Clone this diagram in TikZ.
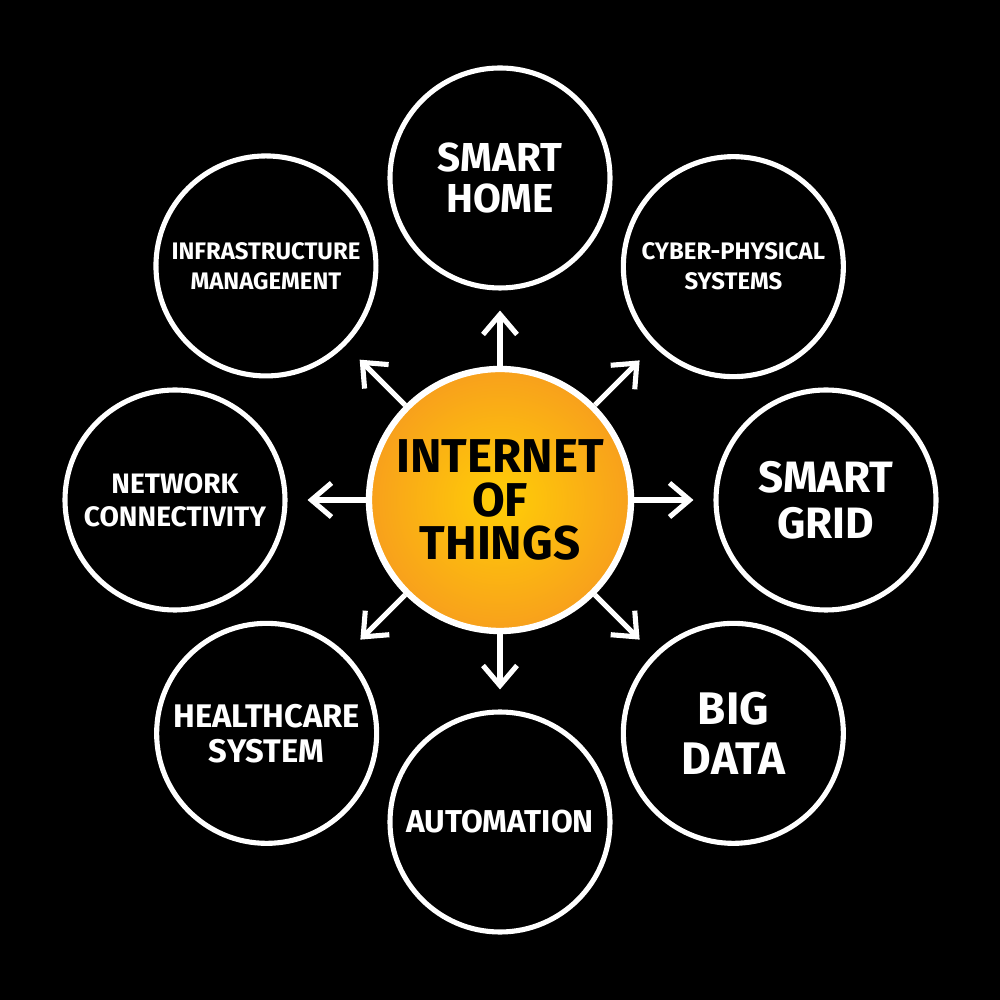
\documentclass[tikz,border=0pt]{standalone}
\usepackage{fontspec}
\setmainfont{Fira Sans}
\usetikzlibrary{arrows.meta,positioning}
\definecolor{iotyellow}{RGB}{255,206,6}
\definecolor{iotorange}{RGB}{248,160,28}

\begin{document}
\begin{tikzpicture}[
    topic/.style={circle,draw=white,line width=1.45pt,minimum size=2.2cm,inner sep=0pt,align=center,text=white},
    hub/.style={circle,draw=white,line width=1.8pt,inner color=iotyellow,outer color=iotorange,minimum size=2.62cm,inner sep=0pt,align=center},
    link/.style={draw=white,line width=1.45pt,-{Straight Barb[length=2mm,width=3.4mm]},shorten >=0.2cm}
]
    \fill[black] (-5,-5) rectangle (5,5);
    \node[hub,font=\bfseries\fontsize{13.5}{12.5}\selectfont] (iot) at (0,0) {INTERNET\\OF\\THINGS};
    \node[topic,font=\bfseries\fontsize{11.5}{11.5}\selectfont] (home) at (90:3.22) {SMART\\HOME};
    \node[topic,font=\bfseries\fontsize{6.8}{8.5}\selectfont] (cps) at (45:3.30) {CYBER-PHYSICAL\\SYSTEMS};
    \node[topic,font=\bfseries\fontsize{12.5}{13}\selectfont] (grid) at (0:3.26) {SMART\\GRID};
    \node[topic,font=\bfseries\fontsize{13}{14}\selectfont] (data) at (-45:3.30) {BIG\\DATA};
    \node[topic,font=\bfseries\fontsize{9}{10}\selectfont] (auto) at (-90:3.22) {AUTOMATION};
    \node[topic,font=\bfseries\fontsize{9.3}{10}\selectfont] (health) at (-135:3.30) {HEALTHCARE\\SYSTEM};
    \node[topic,font=\bfseries\fontsize{8}{9.5}\selectfont] (net) at (180:3.25) {NETWORK\\CONNECTIVITY};
    \node[topic,font=\bfseries\fontsize{6.8}{8.5}\selectfont] (infra) at (135:3.31) {INFRASTRUCTURE\\MANAGEMENT};
    % arrows out of the hub
    \foreach \t in {home,cps,grid,data,auto,health,net,infra}
        \draw[link] (iot) -- (\t);
\end{tikzpicture}
\end{document}
